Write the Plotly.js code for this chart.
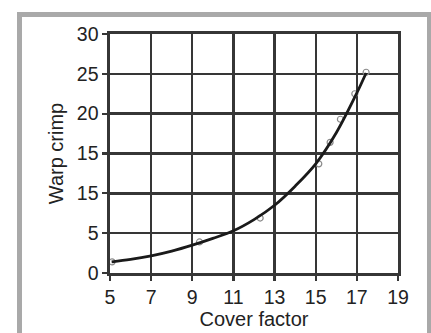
<!DOCTYPE html>
<html>
<head>
<meta charset="utf-8">
<script src="https://cdn.plot.ly/plotly-3.0.1.min.js"></script>
<style>
html,body{margin:0;padding:0;background:#fff;}
#wrap{position:relative;width:431px;height:333px;overflow:hidden;}
#chart{position:absolute;left:0;top:0;width:431px;height:333px;}
#frame{position:absolute;left:17px;top:12px;width:405px;height:340px;border:5px solid #a9a9a9;pointer-events:none;}
</style>
</head>
<body>
<div id="wrap"><div id="chart"></div><div id="frame"></div></div>
<script>
// Fitted curve
const curveX = [5.08, 6, 7, 8, 9, 10, 11, 12, 13, 14, 15, 16, 17, 17.45];
const curveY = [1.4, 1.7, 2.15, 2.75, 3.5, 4.35, 5.3, 6.7, 8.5, 10.9, 13.7, 17.6, 22.6, 25.1];
// Measured points (markers)
const pointX = [5.1, 9.35, 12.3, 15.15, 15.7, 16.2, 16.9, 17.45];
const pointY = [1.4, 3.9, 6.9, 13.7, 16.4, 19.3, 22.5, 25.2];
// Axis ticks
const xTicks = [5, 7, 9, 11, 13, 15, 17, 19];
const yTickVals = [0, 5, 10, 15, 20, 25, 30];
const yTickText = ["0", "5", "15", "15", "20", "25", "30"];

const gridC = '#363636';
const fontF = 'Liberation Sans, Arial, sans-serif';

const traces = [
  {x: pointX, y: pointY, mode: 'markers', type: 'scatter',
   marker: {symbol: 'circle-open', size: 6, color: '#8a8a8a', line: {width: 1.2, color: '#8a8a8a'}},
   hoverinfo: 'skip', showlegend: false},
  {x: curveX, y: curveY, mode: 'lines', type: 'scatter',
   line: {shape: 'spline', smoothing: 1, color: '#1a1a1a', width: 2.8},
   showlegend: false}
];

const layout = {
  width: 431, height: 333,
  margin: {l: 110, r: 33, t: 34, b: 60},
  paper_bgcolor: '#fff', plot_bgcolor: '#fff',
  font: {family: fontF, color: '#222', size: 19.5},
  showlegend: false,
  xaxis: {
    range: [5, 19], tickvals: xTicks, ticktext: xTicks.map(String),
    showgrid: true, gridcolor: gridC, gridwidth: 2.4,
    showline: true, mirror: true, linecolor: gridC, linewidth: 2.6,
    ticks: 'outside', ticklen: 5, tickwidth: 2.2, tickcolor: gridC,
    zeroline: false,
    tickfont: {size: 19.5, color: '#222'},
    title: {text: 'Cover factor', font: {size: 20, color: '#222'}, standoff: 3}
  },
  yaxis: {
    range: [0, 30], tickvals: yTickVals, ticktext: yTickText,
    showgrid: true, gridcolor: gridC, gridwidth: 2.4,
    showline: true, mirror: true, linecolor: gridC, linewidth: 2.6,
    ticks: 'outside', ticklen: 5, tickwidth: 2.2, tickcolor: gridC,
    zeroline: false,
    tickfont: {size: 19.5, color: '#222'},
    title: {text: 'Warp crimp', font: {size: 20, color: '#222'}, standoff: 8}
  }
};

Plotly.newPlot('chart', traces, layout, {displayModeBar: false, staticPlot: true});
</script>
</body>
</html>
